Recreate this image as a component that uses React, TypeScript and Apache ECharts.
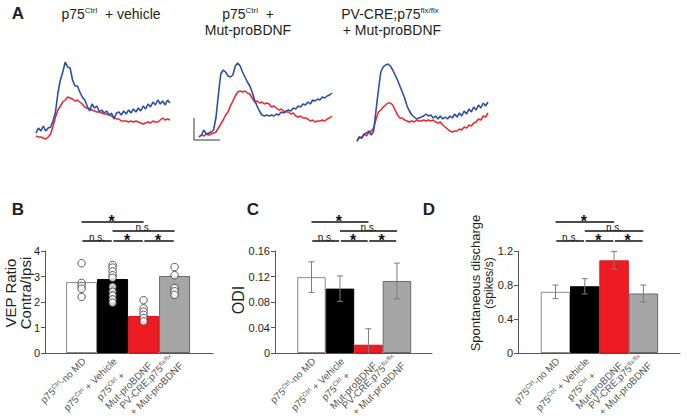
import React, { useEffect, useRef } from 'react';
import * as echarts from 'echarts';

// ---------- Panel A : VEP traces (amplitude, arbitrary units; 10 ms steps) ----------
const traceTimes = ['0','10','20','30','40','50','60','70','80','90','100','110','120','130','140','150','160','170','180','190','200','210','220','230','240','250','260','270','280','290','300','310','320','330','340','350','360','370','380','390','400','410','420','430','440','450','460','470','480','490','500','510','520','530','540','550'];

const blueVehicle = [12,17,14,19,14,17,18,24,33,52,65,73,83,78,77,65,59,59,53,48,45,39,34,41,37,39,33,35,32,34,30,32,26,32,33,30,34,31,35,32,36,33,37,34,39,36,41,38,43,40,45,41,44,40,45,42];
const redVehicle = [9,8,8,7,6,8,11,19,28,35,39,43,45,48,47,46,44,45,43,41,38,37,36,35,34,33,33,32,31,31,30,29,28,26,26,24,24,24,23,24,23,24,23,22,21,22,23,22,24,23,23,25,27,25,26,25];
const blueMut = [8,10,15,11,12,13,15,27,50,71,75,73,69,68,70,79,82,79,73,68,63,59,53,45,39,34,30,29,30,29,30,29,31,30,33,32,34,35,34,37,36,39,38,41,40,43,41,45,44,46,45,48,47,49,50,52];
const redMut = [8,10,9,11,10,11,12,13,17,21,25,30,33,39,44,49,53,54,53,54,52,51,47,43,44,42,43,41,42,41,38,39,37,35,36,34,33,33,31,32,29,28,29,27,27,26,24,25,23,24,24,25,24,26,27,29];
const bluePV = [4,8,7,11,12,14,10,14,35,55,73,78,80,81,79,75,70,65,59,53,47,39,34,30,28,26,27,28,29,31,29,30,27,29,26,29,26,28,26,29,27,31,28,32,29,34,31,36,33,38,35,40,37,42,39,43];
const redPV = [4,8,7,11,9,13,14,17,26,33,35,38,40,42,42,40,35,30,27,27,25,24,23,24,23,25,24,24,25,24,25,24,25,23,22,23,20,18,16,14,13,14,14,16,15,18,17,20,19,22,23,26,25,29,28,32];

// ---------- Panels B-D ----------
const groupLabels = [
  '{a|p75}{s|Ctrl}{a|-no MD}',
  '{a|p75}{s|Ctrl}{a| + Vehicle}',
  '{a|p75}{s|Ctrl}{a| +}\n{a|Mut-proBDNF}',
  '{a|PV-CRE;p75}{s|flx/flx}\n{a| + Mut-proBDNF}',
];
const groupIdx = [0, 1, 2, 3];

const vepMeans = [2.78, 2.9, 1.45, 3.02];
const vepPoints = [
  [3.52, 2.75, 2.63, 2.52, 2.2],
  [3.45, 3.35, 3.2, 3.05, 2.95, 2.6, 2.4, 2.25, 2.1, 1.97],
  [2.07, 1.75, 1.62, 1.5, 1.37, 1.24],
  [4.03, 3.37, 3.05, 2.55, 2.42, 2.28],
];
const odiMeans = [0.119, 0.101, 0.013, 0.113];
const odiErr = [0.024, 0.02, 0.025, 0.028];
const spontMeans = [0.72, 0.785, 1.09, 0.70];
const spontErr = [0.08, 0.09, 0.105, 0.1];

const sigFrom = [0, 1, 0, 1, 2];
const sigTo = [2, 3, 1, 2, 3];
const sigRow = [0, 1, 2, 2, 2];
const sigText = ['*', 'n.s.', 'n.s.', '*', '*'];

const FONT = '"Liberation Sans", Arial, Helvetica, sans-serif';
const TXT = '#231f20';
const AX = '#555555';
const BAR_FILL = ['#ffffff', '#000000', '#ed1c24', '#a6a6a6'];
const BAR_BORDER = ['#8a8a8a', '#000000', '#d8141b', '#6a6a6a'];
const BLUE = '#2e4f9f';
const RED = '#ea2a30';

const rowOffsets = [29, 20, 10];

function sigSeries(xi: number, yTop: number) {
  return {
    type: 'custom',
    xAxisIndex: xi,
    yAxisIndex: xi,
    clip: false,
    silent: true,
    data: sigFrom.map((f, i) => [f, sigTo[i], sigRow[i]]),
    renderItem: (params: any, api: any) => {
      const i = params.dataIndex;
      const p1 = api.coord([api.value(0), yTop]);
      const p2 = api.coord([api.value(1), yTop]);
      const row = api.value(2);
      const y = p1[1] - rowOffsets[row];
      const inset = row === 2 ? 0.8 : 0;
      const x1 = p1[0] + inset;
      const x2 = p2[0] - inset;
      const mid = (x1 + x2) / 2;
      const star = sigText[i] === '*';
      return {
        type: 'group',
        children: [
          { type: 'line', shape: { x1, y1: y, x2, y2: y }, style: { stroke: '#111', lineWidth: 1.5 } },
          {
            type: 'text',
            x: mid - (star ? 1 : 0),
            y: star ? y - 1 : y + 1,
            style: {
              text: sigText[i],
              fill: '#111',
              font: star ? `bold 16px ${FONT}` : `10px ${FONT}`,
              textAlign: 'center',
              textVerticalAlign: star ? 'middle' : 'bottom',
            },
          },
        ],
      };
    },
  };
}

function errSeries(xi: number, means: number[], errs: number[]) {
  return {
    type: 'custom',
    xAxisIndex: xi,
    yAxisIndex: xi,
    silent: true,
    z: 5,
    data: means.map((m, i) => [i, m, errs[i]]),
    renderItem: (params: any, api: any) => {
      const x = api.value(0), m = api.value(1), e = api.value(2);
      const lo = Math.max(0, m - e);
      const hi = api.coord([x, m + e]);
      const lw = api.coord([x, lo]);
      const cap = 3;
      const st = { stroke: '#7d7d7d', lineWidth: 1 };
      const children: any[] = [
        { type: 'line', shape: { x1: hi[0], y1: hi[1], x2: lw[0], y2: lw[1] }, style: st },
        { type: 'line', shape: { x1: hi[0] - cap, y1: hi[1], x2: hi[0] + cap, y2: hi[1] }, style: st },
      ];
      if (m - e > 0) children.push({ type: 'line', shape: { x1: lw[0] - cap, y1: lw[1], x2: lw[0] + cap, y2: lw[1] }, style: st });
      return { type: 'group', children };
    },
  };
}

function barSeries(xi: number, means: number[], width: number) {
  return {
    type: 'bar',
    xAxisIndex: xi,
    yAxisIndex: xi,
    barWidth: width,
    silent: true,
    z: 2,
    data: means.map((m, i) => ({
      value: [i, m],
      itemStyle: { color: BAR_FILL[i], borderColor: BAR_BORDER[i], borderWidth: 1 },
    })),
  };
}

function labelSeries(xi: number) {
  return {
    type: 'scatter',
    xAxisIndex: xi,
    yAxisIndex: xi,
    clip: false,
    silent: true,
    symbolSize: 1,
    itemStyle: { color: 'rgba(0,0,0,0)' },
    data: groupIdx.map((i) => [i, 0]),
    label: {
      show: true,
      position: [3, 7],
      rotate: 45,
      align: 'right',
      verticalAlign: 'middle',
      formatter: (p: any) => groupLabels[p.dataIndex],
      rich: {
        a: { fontSize: 10, fontFamily: FONT, color: TXT, lineHeight: 12, align: 'left' },
        s: { fontSize: 6.5, fontFamily: FONT, color: TXT, lineHeight: 12, verticalAlign: 'top', align: 'left' },
      },
    },
  };
}

const tickFmt = (v: number) => String(Number(v.toFixed(2)));

function valueY(grid: number, max: number, interval: number) {
  return {
    gridIndex: grid,
    type: 'value',
    min: 0,
    max,
    interval,
    axisLine: { show: true, onZero: false, lineStyle: { color: AX, width: 1 } },
    axisTick: { show: true, length: 4, lineStyle: { color: AX } },
    axisLabel: { fontSize: 11, fontFamily: FONT, color: TXT, margin: 5, formatter: tickFmt },
    splitLine: { show: false },
  };
}

function valueX(grid: number, min: number, max: number) {
  return {
    gridIndex: grid,
    type: 'value',
    min,
    max,
    axisLine: { show: true, onZero: false, lineStyle: { color: AX, width: 1 } },
    axisTick: { show: false },
    axisLabel: { show: false },
    splitLine: { show: false },
  };
}

function traceX(grid: number) {
  return { gridIndex: grid, type: 'category', data: traceTimes, boundaryGap: false, show: false };
}
function traceY(grid: number) {
  return { gridIndex: grid, type: 'value', min: 0, max: 90, show: false };
}
function traceLine(grid: number, data: number[], color: string) {
  return {
    type: 'line',
    xAxisIndex: grid,
    yAxisIndex: grid,
    data,
    symbol: 'none',
    silent: true,
    lineStyle: { color, width: 1.6 },
  };
}

const supRich = {
  a: { fontSize: 14, fontFamily: FONT, fill: TXT, lineHeight: 16 },
  s: { fontSize: 8, fontFamily: FONT, fill: TXT, lineHeight: 16, verticalAlign: 'top' },
};

export default function App() {
  const ref = useRef<HTMLDivElement>(null);
  useEffect(() => {
    document.body.style.margin = '0';
    const chart = echarts.init(ref.current!, undefined, { renderer: 'svg' });
    const option: any = {
      animation: false,
      backgroundColor: '#ffffff',
      grid: [
        { left: 36, top: 55, width: 134, height: 90 },
        { left: 199, top: 55, width: 133, height: 90 },
        { left: 357, top: 55, width: 131, height: 90 },
        { left: 45, top: 251, width: 168, height: 102 },
        { left: 275, top: 251, width: 157, height: 102 },
        { left: 518, top: 251, width: 162, height: 102 },
      ],
      xAxis: [traceX(0), traceX(1), traceX(2), valueX(3, -1.18, 4.24), valueX(4, -1.28, 4.23), valueX(5, -1.28, 4.25)],
      yAxis: [traceY(0), traceY(1), traceY(2), valueY(3, 4, 1), valueY(4, 0.16, 0.04), valueY(5, 1.2, 0.4)],
      graphic: [
        { type: 'text', x: 18, y: 13, style: { text: 'A', font: `bold 17px ${FONT}`, fill: TXT, textAlign: 'center', textVerticalAlign: 'middle' } },
        { type: 'text', x: 111, y: 14, style: { text: '{a|p75}{s|Ctrl}{a|  + vehicle}', rich: supRich, textAlign: 'center', textVerticalAlign: 'middle' } },
        { type: 'text', x: 248, y: 22, style: { text: '{a|p75}{s|Ctrl}{a|  +}\n{a|Mut-proBDNF}', rich: supRich, textAlign: 'center', textVerticalAlign: 'middle' } },
        { type: 'text', x: 390, y: 22, style: { text: '{a|PV-CRE;p75}{s|flx/flx}\n{a| + Mut-proBDNF}', rich: supRich, textAlign: 'center', textVerticalAlign: 'middle' } },
        { type: 'polyline', shape: { points: [[194, 118], [194, 140], [220, 140]] }, style: { stroke: '#7a7a7a', lineWidth: 1.5, fill: 'none' } },
        { type: 'text', x: 18, y: 209, style: { text: 'B', font: `bold 17px ${FONT}`, fill: TXT, textAlign: 'center', textVerticalAlign: 'middle' } },
        { type: 'text', x: 253, y: 209, style: { text: 'C', font: `bold 17px ${FONT}`, fill: TXT, textAlign: 'center', textVerticalAlign: 'middle' } },
        { type: 'text', x: 429, y: 209, style: { text: 'D', font: `bold 17px ${FONT}`, fill: TXT, textAlign: 'center', textVerticalAlign: 'middle' } },
        { type: 'text', x: 18, y: 293, rotation: Math.PI / 2, style: { text: 'VEP Ratio\nContra/Ipsi', font: `15px ${FONT}`, lineHeight: 15, fill: TXT, textAlign: 'center', textVerticalAlign: 'middle' } },
        { type: 'text', x: 238, y: 300, rotation: Math.PI / 2, style: { text: 'ODI', font: `16px ${FONT}`, fill: TXT, textAlign: 'center', textVerticalAlign: 'middle' } },
        { type: 'text', x: 482, y: 283, rotation: Math.PI / 2, style: { text: '{a|Spontaneous discharge}\n{b|(spikes/s)}', rich: { a: { fontSize: 13, fontFamily: FONT, fill: TXT, lineHeight: 14 }, b: { fontSize: 12, fontFamily: FONT, fill: TXT, lineHeight: 14 } }, textAlign: 'center', textVerticalAlign: 'middle' } },
      ],
      series: [
        traceLine(0, redVehicle, RED),
        traceLine(0, blueVehicle, BLUE),
        traceLine(1, redMut, RED),
        traceLine(1, blueMut, BLUE),
        traceLine(2, redPV, RED),
        traceLine(2, bluePV, BLUE),
        barSeries(3, vepMeans, 31),
        {
          type: 'scatter',
          xAxisIndex: 3,
          yAxisIndex: 3,
          silent: true,
          z: 6,
          symbol: 'circle',
          symbolSize: 7.5,
          itemStyle: { color: '#ffffff', borderColor: '#333333', borderWidth: 1 },
          data: vepPoints.flatMap((pts, i) => pts.map((v) => [i, v])),
        },
        sigSeries(3, 4),
        labelSeries(3),
        barSeries(4, odiMeans, 28.5),
        errSeries(4, odiMeans, odiErr),
        sigSeries(4, 0.16),
        labelSeries(4),
        barSeries(5, spontMeans, 29.5),
        errSeries(5, spontMeans, spontErr),
        sigSeries(5, 1.2),
        labelSeries(5),
      ],
    };
    chart.setOption(option);
    return () => chart.dispose();
  }, []);
  return <div ref={ref} style={{ width: 687, height: 420 }} />;
}
